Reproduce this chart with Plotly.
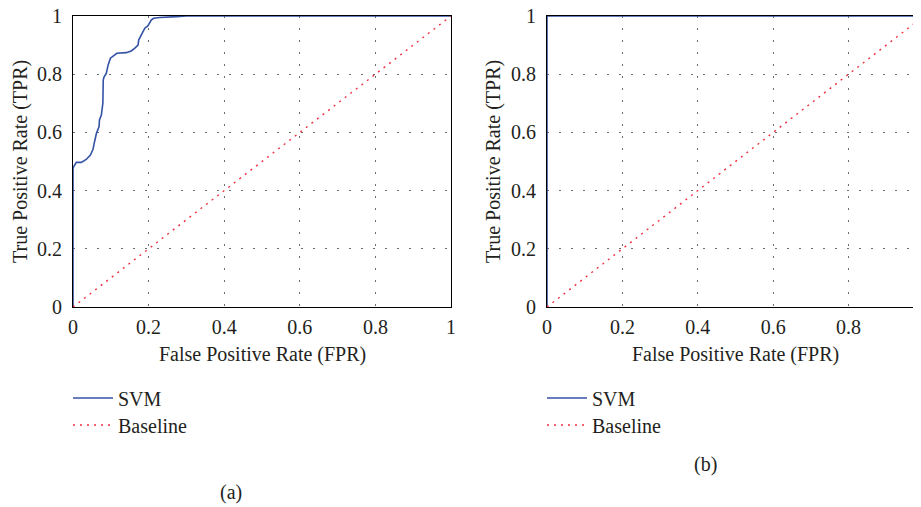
import plotly.graph_objects as go

# ---- data ----
svm_a_fpr = [0, 0, 0.0045, 0.009, 0.022, 0.035, 0.046, 0.053, 0.057, 0.062, 0.069, 0.070, 0.075,
             0.078, 0.079, 0.080, 0.082, 0.088, 0.093, 0.099, 0.106, 0.116, 0.141, 0.154, 0.163,
             0.172, 0.174, 0.181, 0.190, 0.198, 0.203, 0.207, 0.213, 0.229, 0.274, 0.300, 1.0]
svm_a_tpr = [0, 0.477, 0.488, 0.497, 0.497, 0.507, 0.522, 0.542, 0.568, 0.597, 0.620, 0.643, 0.660,
             0.694, 0.700, 0.780, 0.790, 0.803, 0.832, 0.855, 0.863, 0.872, 0.874, 0.880, 0.889,
             0.900, 0.918, 0.938, 0.958, 0.966, 0.975, 0.986, 0.992, 0.995, 0.998, 1.0, 1.0]
svm_b_fpr = [0, 0, 1.0]
svm_b_tpr = [0, 1.0, 1.0]
base_fpr = [0, 1.0]
base_tpr = [0, 1.0]
tick_vals = [0, 0.2, 0.4, 0.6, 0.8, 1]
tick_text = ["0", "0.2", "0.4", "0.6", "0.8", "1"]
x_title = "False Positive Rate (FPR)"
y_title = "True Positive Rate (TPR)"
panel_labels = ["(a)", "(b)"]

FONT = "Liberation Serif"
TXT = "#231f20"
BLUE = "#3452a6"
RED = "#f03040"
FS = 20

W, H = 921, 507
OFF = 8          # page body margin offset (px) applied by the browser
T = 16 - OFF     # plot top at window y=16
BOT = 307 - OFF  # plot bottom at window y=307
B = H - BOT
PH = BOT - T


def px(p):
    """window pixel x -> paper x"""
    return (p - OFF) / W


def py(p):
    """window pixel y -> paper y"""
    return (BOT - (p - OFF)) / PH


fig = go.Figure()
base_dash = "2px,5px"
fig.add_trace(go.Scatter(x=svm_a_fpr, y=svm_a_tpr, mode="lines", name="SVM",
                         line=dict(color=BLUE, width=1.6), xaxis="x", yaxis="y", legend="legend"))
fig.add_trace(go.Scatter(x=base_fpr, y=base_tpr, mode="lines", name="Baseline",
                         line=dict(color=RED, width=1.4, dash=base_dash), xaxis="x", yaxis="y",
                         legend="legend2"))
fig.add_trace(go.Scatter(x=svm_b_fpr, y=svm_b_tpr, mode="lines", name="SVM",
                         line=dict(color=BLUE, width=1.6), xaxis="x2", yaxis="y2", legend="legend3"))
fig.add_trace(go.Scatter(x=base_fpr, y=base_tpr, mode="lines", name="Baseline",
                         line=dict(color=RED, width=1.4, dash=base_dash), xaxis="x2", yaxis="y2",
                         legend="legend4"))

axis_common = dict(tickvals=tick_vals, ticktext=tick_text, showgrid=True, gridcolor="#6e6e6e",
                   griddash="2px,10px", gridwidth=1.2, zeroline=False, showline=True,
                   linecolor="black", linewidth=1, ticks="", automargin=False,
                   ticklabeloverflow="allow",
                   tickfont=dict(family=FONT, size=FS, color=TXT))

leg_common = dict(xref="paper", yref="paper", xanchor="left", yanchor="middle",
                  bgcolor="rgba(0,0,0,0)", font=dict(family=FONT, size=FS, color=TXT),
                  itemwidth=40)
fig.update_layout(
    width=W, height=H,
    margin=dict(l=0, r=0, t=T, b=B, autoexpand=False),
    paper_bgcolor="white", plot_bgcolor="white",
    font=dict(family=FONT, color=TXT, size=FS),
    xaxis=dict(axis_common, domain=[px(73), px(451)], range=[0, 1], mirror=True,
               ticklabelstandoff=2),
    yaxis=dict(axis_common, domain=[0, 1], range=[0, 1], mirror=True, anchor="x",
               ticklabelstandoff=6),
    xaxis2=dict(axis_common, domain=[px(547), px(924)], range=[0, 1], mirror=True,
                anchor="y2", ticklabelstandoff=2),
    yaxis2=dict(axis_common, domain=[0, 1], range=[0, 1], mirror=False, anchor="x2",
                ticklabelstandoff=6),
    legend=dict(leg_common, x=px(68), y=py(398)),
    legend2=dict(leg_common, x=px(68), y=py(425)),
    legend3=dict(leg_common, x=px(542), y=py(398)),
    legend4=dict(leg_common, x=px(542), y=py(425)),
    showlegend=True,
)

# axis titles and panel labels
for xc in [(73 + 451) / 2, (547 + 924) / 2]:
    fig.add_annotation(text=x_title, x=px(xc), y=py(354), xref="paper", yref="paper",
                       xanchor="center", yanchor="middle", showarrow=False,
                       font=dict(family=FONT, size=FS, color=TXT))
for xc in [20, 493]:
    fig.add_annotation(text=y_title, x=px(xc), y=py(162), xref="paper", yref="paper",
                       xanchor="center", yanchor="middle", textangle=-90, showarrow=False,
                       font=dict(family=FONT, size=FS, color=TXT))
fig.add_annotation(text=panel_labels[0], x=px(231), y=py(492), xref="paper", yref="paper",
                   xanchor="center", yanchor="middle", showarrow=False,
                   font=dict(family=FONT, size=FS, color=TXT))
fig.add_annotation(text=panel_labels[1], x=px(705), y=py(465), xref="paper", yref="paper",
                   xanchor="center", yanchor="middle", showarrow=False,
                   font=dict(family=FONT, size=FS, color=TXT))

fig.write_html("out.html")
